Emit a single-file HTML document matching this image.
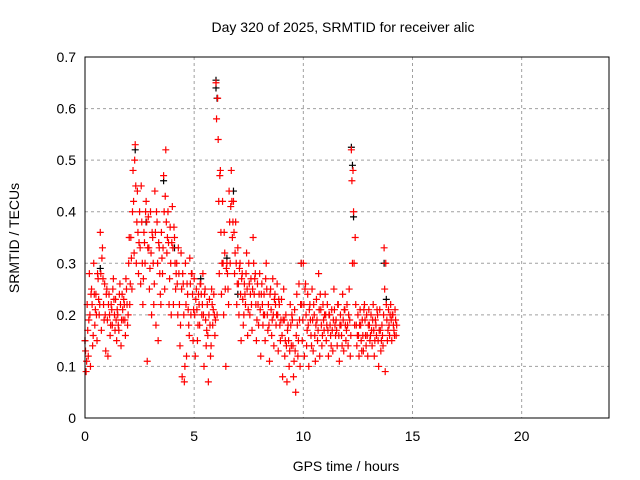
<!DOCTYPE html>
<html><head><meta charset="utf-8"><style>
body{margin:0;background:#fff;}
svg{display:block;font-family:"Liberation Sans",sans-serif;}
</style></head><body>
<svg id="chart" width="640" height="480">
<text x="343" y="32" font-size="14" text-anchor="middle">Day 320 of 2025, SRMTID for receiver alic</text>
<text x="346" y="471" font-size="14" text-anchor="middle">GPS time / hours</text>
<text transform="translate(19,238) rotate(-90)" font-size="14" text-anchor="middle">SRMTID / TECUs</text>
<g id="grid"></g><g id="ticks"></g><g id="marks"></g>
<rect x="85" y="57" width="524" height="361" fill="none" stroke="#000" stroke-width="1"/>
</svg>
<script>
const xTicks=[0,5,10,15,20];
const yTicks=[0,0.1,0.2,0.3,0.4,0.5,0.6,0.7];
const yTickLabels=["0","0.1","0.2","0.3","0.4","0.5","0.6","0.7"];
const times=[0.0,0.1,0.2,0.3,0.4,0.5,0.6,0.7,0.8,0.9,1.0,1.1,1.2,1.3,1.4,1.5,1.6,1.7,1.8,1.9,2.0,2.1,2.2,2.3,2.4,2.5,2.6,2.7,2.8,2.9,3.0,3.1,3.2,3.3,3.4,3.5,3.6,3.7,3.8,3.9,4.0,4.1,4.2,4.3,4.4,4.5,4.6,4.7,4.8,4.9,5.0,5.1,5.2,5.3,5.4,5.5,5.6,5.7,5.8,5.9,6.0,6.1,6.2,6.3,6.4,6.5,6.6,6.7,6.8,6.9,7.0,7.1,7.2,7.3,7.4,7.5,7.6,7.7,7.8,7.9,8.0,8.1,8.2,8.3,8.4,8.5,8.6,8.7,8.8,8.9,9.0,9.1,9.2,9.3,9.4,9.5,9.6,9.7,9.8,9.9,10.0,10.1,10.2,10.3,10.4,10.5,10.6,10.7,10.8,10.9,11.0,11.1,11.2,11.3,11.4,11.5,11.6,11.7,11.8,11.9,12.0,12.1,12.2,12.3,12.4,12.5,12.6,12.7,12.8,12.9,13.0,13.1,13.2,13.3,13.4,13.5,13.6,13.7,13.8,13.9,14.0,14.1,14.2];
const valsA=[.15,.22,.28,.25,.30,.24,.27,.36,.33,.26,.25,.24,.22,.27,.23,.20,.26,.24,.22,.25,.30,.35,.48,.53,.44,.40,.38,.36,.42,.39,.40,.35,.44,.38,.33,.36,.47,.52,.40,.37,.41,.35,.30,.28,.32,.26,.30,.24,.31,.28,.27,.25,.24,.26,.28,.25,.22,.23,.25,.24,.65,.54,.48,.42,.32,.30,.44,.48,.42,.38,.33,.30,.28,.26,.32,.30,.27,.35,.28,.26,.28,.26,.24,.30,.22,.25,.27,.24,.26,.22,.23,.25,.20,.18,.22,.19,.21,.24,.26,.30,.30,.26,.24,.22,.25,.20,.23,.28,.21,.22,.24,.22,.20,.21,.25,.19,.22,.20,.24,.21,.22,.25,.52,.40,.22,.20,.21,.19,.22,.20,.21,.20,.22,.19,.20,.21,.18,.33,.22,.21,.22,.20,.21];
const valsB=[.09,.12,.10,.14,.18,.15,.20,.17,.22,.13,.12,.16,.18,.20,.15,.17,.14,.19,.16,.18,.22,.25,.32,.30,.28,.26,.22,.30,.11,.25,.20,.22,.18,.15,.24,.28,.25,.32,.22,.20,.22,.25,.20,.14,.08,.07,.12,.18,.20,.15,.12,.15,.18,.20,.10,.14,.07,.12,.18,.16,.20,.28,.24,.20,.10,.25,.30,.35,.28,.22,.20,.15,.18,.22,.16,.20,.17,.24,.15,.18,.12,.18,.15,.20,.11,.16,.14,.18,.13,.15,.08,.12,.07,.10,.14,.08,.05,.12,.10,.15,.12,.14,.10,.16,.13,.11,.15,.12,.14,.17,.15,.12,.16,.13,.18,.14,.11,.16,.13,.15,.14,.12,.30,.18,.14,.12,.15,.13,.16,.12,.15,.14,.12,.16,.10,.13,.14,.09,.15,.16,.15,.17,.16];
const valsC=[.13,.17,.20,.22,.24,.20,.23,.28,.27,.20,.19,.20,.21,.23,.19,.18,.22,.21,.19,.22,.35,.31,.42,.45,.36,.33,.30,.34,.38,.33,.32,.30,.36,.30,.28,.31,.40,.38,.34,.30,.33,.30,.26,.22,.25,.20,.22,.21,.26,.24,.20,.21,.22,.24,.20,.19,.16,.18,.22,.20,.58,.42,.36,.30,.25,.28,.38,.42,.36,.30,.26,.24,.23,.24,.25,.26,.22,.30,.22,.22,.21,.22,.20,.25,.18,.21,.20,.22,.20,.18,.16,.19,.14,.15,.18,.14,.13,.18,.19,.22,.22,.20,.18,.19,.19,.16,.19,.21,.18,.19,.20,.17,.18,.17,.21,.17,.16,.18,.19,.18,.18,.19,.46,.30,.18,.16,.18,.16,.19,.16,.18,.17,.17,.18,.15,.17,.16,.25,.19,.18,.19,.18,.19];
const valsD=[.11,.19,.24,.16,.21,.28,.22,.31,.19,.24,.22,.18,.25,.17,.21,.24,.19,.23,.27,.20,.26,.40,.50,.38,.34,.45,.27,.40,.33,.29,.36,.26,.40,.34,.22,.33,.43,.35,.27,.34,.37,.28,.33,.18,.28,.10,.26,.16,.28,.21,.23,.18,.26,.22,.24,.17,.20,.14,.21,.19,.62,.47,.30,.36,.29,.22,.41,.38,.32,.26,.29,.27,.20,.28,.21,.24,.25,.27,.19,.24,.24,.20,.27,.17,.24,.19,.23,.20,.23,.19,.19,.15,.17,.13,.20,.11,.16,.15,.22,.19,.25,.17,.21,.14,.22,.18,.17,.24,.16,.20,.18,.20,.14,.19,.16,.22,.18,.14,.21,.17,.20,.16,.48,.35,.16,.18,.13,.21,.14,.18,.16,.19,.15,.21,.17,.15,.20,.30,.17,.20,.20,.16,.18];
const blackTimes=[0.0,0.7,2.3,3.6,4.1,6.0,6.0,6.05,6.5,6.8,7.0,9.9,12.2,12.25,12.3,13.7,13.8,2.8,5.3];
const blackVals=[0.15,0.29,0.52,0.46,0.33,0.655,0.64,0.62,0.31,0.44,0.24,0.30,0.525,0.49,0.39,0.30,0.23,0.38,0.27];
const X=t=>85+t*(524/24), Y=v=>418-v*(361/0.7);
const NS="http://www.w3.org/2000/svg";
const g=document.getElementById('grid'),tk=document.getElementById('ticks'),mk=document.getElementById('marks');
function mkEl(tag,attrs,parent){const e=document.createElementNS(NS,tag);for(const k in attrs)e.setAttribute(k,attrs[k]);parent.appendChild(e);return e;}
xTicks.forEach(t=>{
 if(t>0){const l=mkEl('line',{x1:X(t),x2:X(t),y1:57,y2:418,stroke:'#a0a0a0','stroke-dasharray':'3,3'},g);
 
 }
 const tx=mkEl('text',{x:X(t),y:441,'font-size':14,'text-anchor':'middle'},tk);tx.textContent=t;
 
 
});
yTicks.forEach((v,i)=>{
 if(v>0&&v<0.7){const l=mkEl('line',{x1:85,x2:609,y1:Y(v),y2:Y(v),stroke:'#a0a0a0','stroke-dasharray':'3,3'},g);
 
 }
 const tx=mkEl('text',{x:76,y:Y(v)+5,'font-size':14,'text-anchor':'end'},tk);tx.textContent=yTickLabels[i];
 
 
});
function plus(t,v,c,name){
 const x=X(t),y=Y(v);
 const p=mkEl('path',{d:`M${x-3.5},${y}h7M${x},${y-3.5}v7`,stroke:c,'stroke-width':1.2,fill:'none'},mk);
 
 
}
blackTimes.forEach((t,i)=>plus(t,blackVals[i],'#000','black-point'));
times.forEach((t,i)=>{
 plus(t,valsA[i],'#f00','red-point');
 plus(t+0.05,valsB[i],'#f00','red-point');
 plus(t+0.025,valsC[i],'#f00','red-point');
 plus(t+0.075,valsD[i],'#f00','red-point');
});
</script>
</body></html>
